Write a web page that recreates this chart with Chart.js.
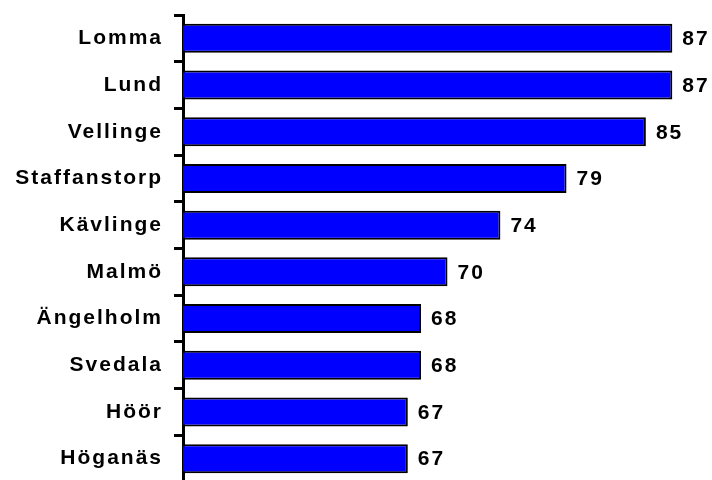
<!DOCTYPE html>
<html>
<head>
<meta charset="utf-8">
<script src="https://cdn.jsdelivr.net/npm/chart.js@4"></script>
<style>
  html, body { margin: 0; padding: 0; background: #fff; overflow: hidden; }
  #wrap { position: relative; width: 712px; height: 484px; }
</style>
</head>
<body>
<div id="wrap"><canvas id="chart"></canvas></div>
<script>
// Kommuner och värden
const municipalities = ['Lomma', 'Lund', 'Vellinge', 'Staffanstorp', 'Kävlinge', 'Malmö', 'Ängelholm', 'Svedala', 'Höör', 'Höganäs'];
const values = [87, 87, 85, 79, 74, 70, 68, 68, 67, 67];
const axisMin = 50;
const axisMax = 90;

const labelFont = { family: "'Liberation Sans', Arial, sans-serif", size: 21, weight: 'bold' };
const letterGap = '2px';

// Spaced-out bold text like the old spreadsheet look
const spacing = {
  id: 'spacing',
  beforeDraw(chart) { chart.ctx.letterSpacing = letterGap; }
};

// Value printed just right of each bar
const valueLabels = {
  id: 'valueLabels',
  afterDatasetsDraw(chart) {
    const ctx = chart.ctx;
    const meta = chart.getDatasetMeta(0);
    ctx.save();
    ctx.letterSpacing = letterGap;
    ctx.font = `bold ${labelFont.size}px ${labelFont.family}`;
    ctx.fillStyle = '#000';
    ctx.textAlign = 'left';
    ctx.textBaseline = 'middle';
    meta.data.forEach((bar, i) => {
      ctx.fillText(String(values[i]), bar.x + 10, bar.y + 1);
    });
    ctx.restore();
  }
};

new Chart(document.getElementById('chart'), {
  type: 'bar',
  data: {
    labels: municipalities,
    datasets: [{
      data: values,
      backgroundColor: '#0000ff',
      borderColor: '#000',
      borderWidth: 2,
      borderSkipped: false,
      barPercentage: 0.62,
      categoryPercentage: 1
    }]
  },
  options: {
    indexAxis: 'y',
    responsive: true,
    maintainAspectRatio: false,
    animation: false,
    layout: { padding: { top: 15, bottom: 2, left: 0, right: 0 } },
    plugins: { legend: { display: false }, tooltip: { enabled: false } },
    scales: {
      x: { display: false, min: axisMin, max: axisMax },
      y: {
        afterFit(scale) {
          scale.width = 183;
          scale.paddingTop = 0;
          scale.paddingBottom = 0;
        },
        border: { display: true, color: '#000', width: 3 },
        grid: { offset: true, drawOnChartArea: false, drawTicks: true, tickLength: 9, lineWidth: 3, color: '#000' },
        ticks: { color: '#000', font: labelFont, padding: 11 }
      }
    }
  },
  plugins: [spacing, valueLabels]
});
</script>
</body>
</html>
